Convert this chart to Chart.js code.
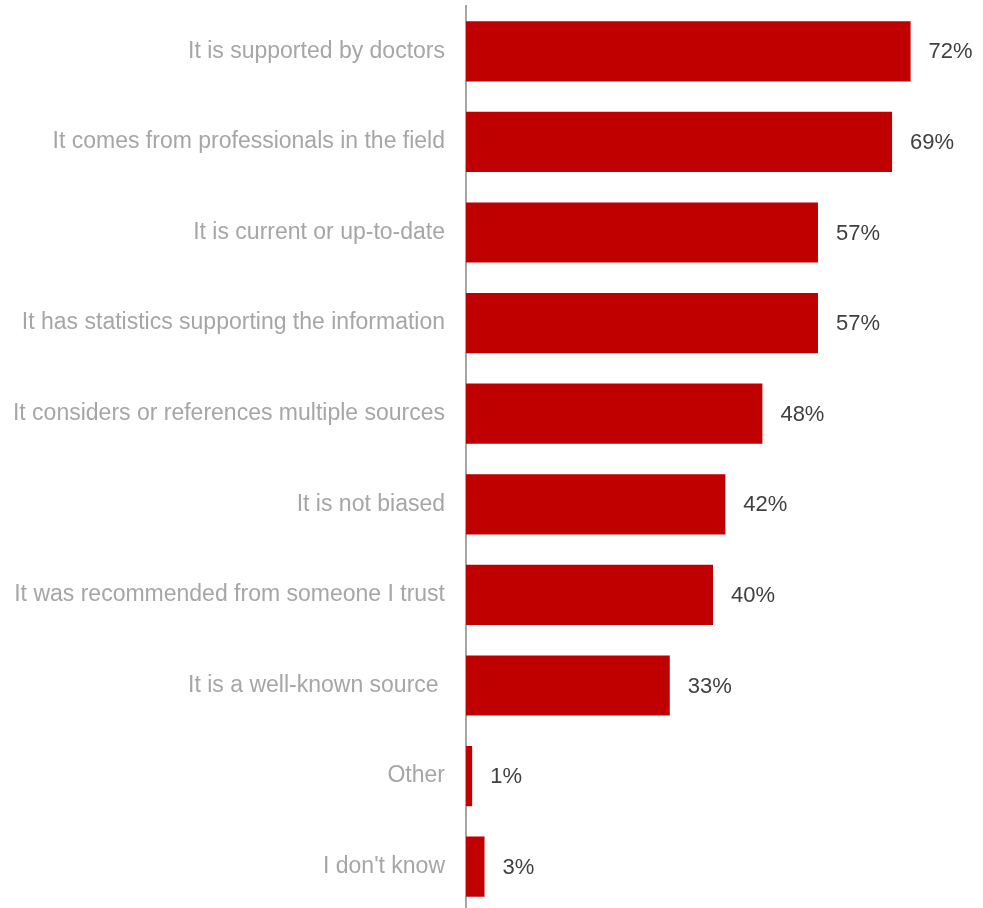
<!DOCTYPE html>
<html>
<head>
<meta charset="utf-8">
<script src="https://cdn.jsdelivr.net/npm/chart.js@4/dist/chart.umd.min.js"></script>
<style>
  html, body { margin: 0; padding: 0; background: #ffffff; overflow: hidden; }
  canvas { display: block; }
</style>
</head>
<body>
<canvas id="chart" width="983" height="914"></canvas>
<script>
// Reasons respondents trust health information (share of respondents, %)
const categories = [
  "It is supported by doctors",
  "It comes from professionals in the field",
  "It is current or up-to-date",
  "It has statistics supporting the information",
  "It considers or references multiple sources",
  "It is not biased",
  "It was recommended from someone I trust",
  "It is a well-known source ",
  "Other",
  "I don't know"
];
const shares = [72, 69, 57, 57, 48, 42, 40, 33, 1, 3];
const valueLabels = ["72%", "69%", "57%", "57%", "48%", "42%", "40%", "33%", "1%", "3%"];

const FONT = "'Liberation Sans', Arial, sans-serif";

// Writes each percentage just past the end of its bar
const barValueLabels = {
  id: 'barValueLabels',
  afterDatasetsDraw(chart) {
    const ctx = chart.ctx;
    const meta = chart.getDatasetMeta(0);
    const xScale = chart.scales.x;
    ctx.save();
    ctx.font = "22px " + FONT;
    ctx.fillStyle = "#404040";
    ctx.textAlign = "left";
    ctx.textBaseline = "middle";
    meta.data.forEach((bar, i) => {
      const x = xScale.getPixelForValue(shares[i]) + 18;
      ctx.fillText(valueLabels[i], x, bar.y + 1);
    });
    ctx.restore();
  }
};

new Chart(document.getElementById('chart'), {
  type: 'bar',
  data: {
    labels: categories,
    datasets: [{
      data: shares,
      backgroundColor: "#C00000",
      borderWidth: 0,
      categoryPercentage: 1,
      barPercentage: 0.665
    }]
  },
  options: {
    indexAxis: 'y',
    responsive: false,
    animation: false,
    layout: { padding: { top: 6, right: 23, bottom: 2, left: 0 } },
    plugins: { legend: { display: false }, tooltip: { enabled: false } },
    scales: {
      x: {
        min: 0,
        max: 80,
        display: false
      },
      y: {
        afterFit(scale) {
          scale.width = 466;
          scale.paddingTop = 0;
          scale.paddingBottom = 0;
        },
        grid: { display: false, drawTicks: false },
        border: { display: true, color: "#A6A6A6", width: 2 },
        ticks: {
          color: "#A6A6A6",
          padding: 21,
          font: { family: FONT, size: 23 }
        }
      }
    }
  },
  plugins: [barValueLabels]
});
</script>
</body>
</html>
